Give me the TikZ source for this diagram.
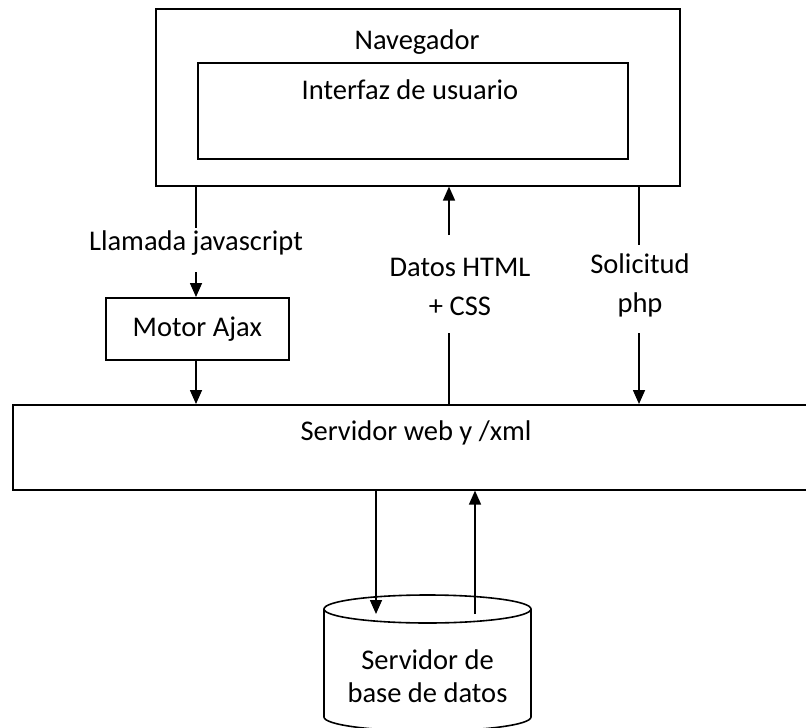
\documentclass[tikz,border=0pt]{standalone}
\usepackage{fontspec}
\setmainfont{Carlito}
\usetikzlibrary{arrows.meta}
\begin{document}
\begin{tikzpicture}[x=1pt,y=-1pt,line width=1.6pt,
  box/.style={draw,rectangle,inner sep=0pt,anchor=north west},
  lbl/.style={font=\fontsize{28.5}{33}\selectfont,inner sep=0pt},
  arr/.style={-{Triangle[length=14pt,width=12pt]}}]
\useasboundingbox (0,0) rectangle (806,728);
\clip (0,0) rectangle (806,728);
% boxes
\node[box,minimum width=524pt,minimum height=177pt] (nav) at (155,8) {};
\node[lbl] (navt) at (417,42) {Navegador};
\node[box,minimum width=430pt,minimum height=96pt] (ui) at (197,62) {};
\node[lbl] (uit) at (410,90) {Interfaz de usuario};
\node[box,lbl,minimum width=183pt,minimum height=62pt] (motor) at (105,297) {Motor Ajax};
\node[box,minimum width=830pt,minimum height=85pt] (srv) at (12,404) {};
\node[lbl] (srvt) at (416,433) {Servidor web y /xml};
% database cylinder
\draw (324,609) -- (324,717) arc[start angle=180,end angle=0,x radius=103.5,y radius=14] -- (531,609);
\draw (427.5,609) ellipse [x radius=103.5,y radius=14];
\node[lbl,align=center] (db) at (427.5,676) {Servidor de\\base de datos};
% labels
\node[lbl] (llam) at (196,243) {Llamada javascript};
\node[lbl,align=center] (datos) at (460,287) {Datos HTML\\[6pt]+ CSS};
\node[lbl,align=center] (sol) at (640,285) {Solicitud\\[6pt]php};
% coordinates
\coordinate (c1) at (196,228);
\coordinate (c2) at (196,272);
\coordinate (c3) at (449,235);
\coordinate (c4) at (449,333);
\coordinate (c5) at (639,245);
\coordinate (c6) at (639,333);
\coordinate (dbin) at (376,614);
\coordinate (dbout) at (475,614);
% connectors
\draw (nav.south -| c1) -- (c1);
\draw[arr] (c2) -- (motor.north -| c2);
\draw[arr] (motor.south -| c2) -- (srv.north -| c2);
\draw[arr] (c3) -- (nav.south -| c3);
\draw (srv.north -| c4) -- (c4);
\draw (nav.south -| c5) -- (c5);
\draw[arr] (c6) -- (srv.north -| c6);
\draw[arr] (srv.south -| dbin) -- (dbin);
\draw[arr] (dbout) -- (srv.south -| dbout);
\end{tikzpicture}
\end{document}
